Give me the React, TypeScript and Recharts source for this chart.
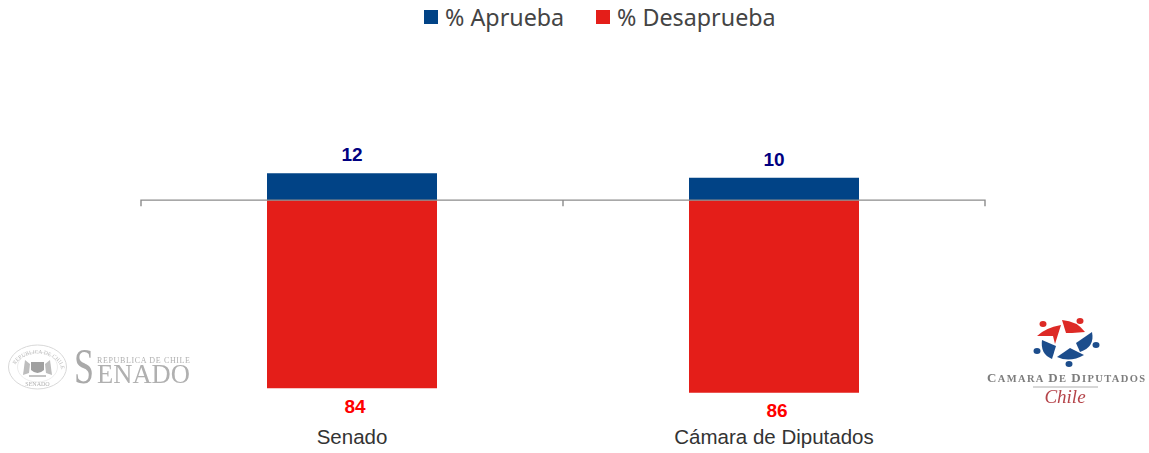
import { BarChart, Bar, XAxis, YAxis, ReferenceLine, LabelList } from "recharts"

const categories = ["Senado", "Cámara de Diputados"]
const aprueba = [12, 10]
const desaprueba = [-84, -86]

const chartData = categories.map((name, i) => ({
  name,
  "% Aprueba": aprueba[i],
  "% Desaprueba": desaprueba[i],
}))

const BLUE = "#014386"
const RED = "#e41e19"

function LegendContent() {
  const items = [
    { label: "% Aprueba", color: BLUE, width: 172 },
    { label: "% Desaprueba", color: RED, width: 180 },
  ]
  return (
    <div style={{ display: "flex", height: 34, alignItems: "center", paddingLeft: 424 }}>
      {items.map((it) => (
        <div key={it.label} style={{ display: "flex", alignItems: "center", width: it.width }}>
          <span style={{ width: 14, height: 14, background: it.color, marginRight: 7 }} />
          <span style={{ fontFamily: "'Noto Sans'", fontSize: 23.3, color: "#444", whiteSpace: "nowrap" }}>
            {it.label}
          </span>
        </div>
      ))}
    </div>
  )
}

// zero line with the tick marks at the category boundaries
function ZeroLine({ x1, x2, y1 }: any) {
  const mid = (x1 + x2) / 2
  const d = `M${x1},${y1 + 6}V${y1}H${x2}V${y1 + 6}M${mid},${y1}V${y1 + 6}`
  return <path d={d} fill="none" stroke="#8c8c8c" strokeWidth={1.4} />
}

function SenadoLogo() {
  return (
    <svg width={200} height={75} viewBox="0 325 200 75" style={{ position: "absolute", left: 0, top: 325 }}>
      <defs>
        <filter id="soft"><feGaussianBlur stdDeviation="0.45" /></filter>
        <path id="sealTop" d="M14,368 A24,18 0 0 1 61,368" />
      </defs>
      <g filter="url(#soft)">
        <ellipse cx={37.5} cy={367} rx={29} ry={22} fill="none" stroke="#d8d8d8" strokeWidth={1} />
        <ellipse cx={37.5} cy={367} rx={20} ry={15} fill="none" stroke="#ececec" strokeWidth={1} />
        <text fontFamily="'Liberation Serif'" fontSize={5.5} fill="#b8b8b8">
          <textPath href="#sealTop" startOffset="6%">REPUBLICA DE CHILE</textPath>
        </text>
        <path d="M31,362 H44 V370 Q37.5,376 31,370 Z" fill="#a0a0a0" />
        <path d="M25,360 L30,364 L29,373 L23,375 Z" fill="#bdbdbd" />
        <path d="M50,360 L45,364 L46,373 L52,375 Z" fill="#bdbdbd" />
        <rect x={29} y={375} width={17} height={2} fill="#c4c4c4" />
        <text x={37.5} y={386} textAnchor="middle" fontFamily="'Liberation Serif'" fontSize={6} fill="#b0b0b0">SENADO</text>
        <text x={74} y={382.5} fontFamily="'Liberation Serif'" fontSize={50} fill="#a9a9a9" textLength={20} lengthAdjust="spacingAndGlyphs">S</text>
        <text x={97} y={362.5} fontFamily="'Liberation Serif'" fontSize={8} fill="#b0b0b0" textLength={93}>REPUBLICA DE CHILE</text>
        <text x={97} y={382.5} fontFamily="'Liberation Serif'" fontSize={28} fill="#b0b0b0" textLength={93} lengthAdjust="spacingAndGlyphs">ENADO</text>
      </g>
    </svg>
  )
}

function CamaraLogo() {
  return (
    <svg width={199} height={120} viewBox="950 300 199 120" style={{ position: "absolute", left: 950, top: 300 }}>
      <defs>
        <filter id="soft2"><feGaussianBlur stdDeviation="0.45" /></filter>
      </defs>
      <g filter="url(#soft2)">
        <path d="M1037,336 Q1045,328 1061,325 L1055,344 L1053,336 Z" fill="#dd2a25" />
        <path d="M1062,320 Q1077,321 1085,332 L1072,333 L1066,333 Z" fill="#dd2a25" />
        <ellipse cx={1043} cy={324} rx={3.5} ry={3} fill="#dd2a25" />
        <ellipse cx={1080} cy={321} rx={3.5} ry={3} fill="#dd2a25" />
        <path d="M1042,340 L1056,346 L1052,359 Q1040,354 1042,340 Z" fill="#1f4d8c" />
        <path d="M1092,332 L1076,343 L1080,352 Q1095,347 1092,332 Z" fill="#1f4d8c" />
        <path d="M1057,357 L1070,348 L1084,355 Q1070,363 1057,357 Z" fill="#1f4d8c" />
        <ellipse cx={1037} cy={351} rx={3.5} ry={3} fill="#1f4d8c" />
        <ellipse cx={1096} cy={345} rx={3.5} ry={3} fill="#1f4d8c" />
        <ellipse cx={1069} cy={364} rx={3.5} ry={3} fill="#1f4d8c" />
        <text x={987} y={382} fontFamily="'Liberation Serif'" fontWeight={700} fontSize={10.5} fill="#7d7d7d" textLength={158} lengthAdjust="spacing">
          <tspan fontSize={13}>C</tspan>AMARA <tspan fontSize={13}>D</tspan>E <tspan fontSize={13}>D</tspan>IPUTADOS
        </text>
        <line x1={1033} x2={1098} y1={387} y2={387} stroke="#999" strokeWidth={0.8} />
        <text x={1065} y={403} textAnchor="middle" fontFamily="'Liberation Serif'" fontStyle="italic" fontSize={19} fill="#b5444a">Chile</text>
      </g>
    </svg>
  )
}

export default function App() {
  return (
    <div style={{ position: "absolute", left: 0, top: 0, width: 1149, height: 453, background: "#fff", overflow: "hidden" }}>
      <div style={{ position: "absolute", left: 0, top: 0, width: 1149 }}>
        <LegendContent />
      </div>
      <BarChart
        width={1149}
        height={453}
        data={chartData}
        stackOffset="sign"
        barCategoryGap={0}
        margin={{ top: 133, right: 164, bottom: 0, left: 141 }}
      >
        <YAxis hide domain={[-100, 30]} allowDataOverflow />
        <XAxis
          dataKey="name"
          axisLine={false}
          tickLine={false}
          height={29}
          tickMargin={-1}
          tick={{ fontFamily: "'Liberation Sans'", fontSize: 20.5, fill: "#333" }}
        />
        <Bar dataKey="% Aprueba" stackId="a" fill={BLUE} barSize={170} isAnimationActive={false}>
          <LabelList
            dataKey="% Aprueba"
            position="top"
            offset={12}
            style={{ fontFamily: "'Liberation Sans'", fontSize: 19, fontWeight: 700, fill: "#000080" }}
          />
        </Bar>
        <Bar dataKey="% Desaprueba" stackId="a" fill={RED} barSize={170} isAnimationActive={false}>
          <LabelList
            dataKey="% Desaprueba"
            position="top"
            offset={11}
            dx={3}
            formatter={(v: any) => Math.abs(v)}
            style={{ fontFamily: "'Liberation Sans'", fontSize: 19, fontWeight: 700, fill: "#ff0000" }}
          />
        </Bar>
        <ReferenceLine y={0} shape={<ZeroLine />} />
      </BarChart>
      <SenadoLogo />
      <CamaraLogo />
    </div>
  )
}
